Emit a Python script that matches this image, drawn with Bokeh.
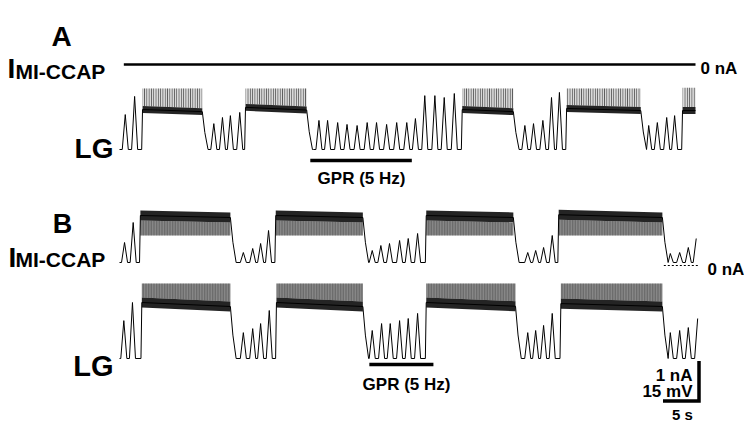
from bokeh.plotting import figure
from bokeh.models import Range1d, Label
from bokeh.embed import file_html
from bokeh.resources import INLINE

# ---------------- data (time in s from trace start; LG in mV above trough; I in nA) -------------
# Panel A, LG
A_LG_PEAK_T = [0.8, 2.1, 13.1, 14.3, 15.4, 16.7,
               26.5, 27.7, 28.9, 30.3, 31.6, 33.0, 34.4, 35.7, 37.1, 38.5, 39.9, 41.1,
               42.4, 43.8, 45.1, 46.5,
               56.3, 57.5, 58.8, 60.0, 61.1,
               73.5, 74.7, 76.0, 77.1]
A_LG_PEAK_MV = [13.1, 19.9, 9.7, 12.0, 12.7, 13.9,
                10.9, 10.9, 10.9, 10.1, 9.4, 9.0, 10.1, 10.1, 9.4, 10.1, 10.1, 11.6,
                20.2, 20.2, 19.5, 21.0,
                9.0, 9.7, 10.9, 19.5, 21.4,
                9.0, 10.1, 12.0, 12.7]
A_LG_BURST_ON = [3.2, 17.5, 47.6, 62.1, 78.2]
A_LG_BURST_OFF = [11.5, 26.0, 54.7, 72.4, 80.0]
A_LG_PLATEAU_ON = [15.0, 15.8, 15.0, 15.4, 14.6]
A_LG_PLATEAU_OFF = [14.2, 14.8, 14.2, 14.6, 14.6]
A_LG_SPIKE_TOP = [22.9, 22.9, 22.9, 22.9, 23.2]
A_I_T = [0.6, 80.0]
A_I_NA = [0.0, 0.0]
A_GPR_T = [26.5, 40.6]

# Panel B, I MI-CCAP
B_I_PEAK_T = [0.7, 1.9, 17.2, 18.5, 19.6, 20.7,
              35.1, 36.3, 37.5, 38.9, 40.1, 41.4,
              56.7, 57.8, 58.9, 60.1,
              76.5, 77.8, 79.0, 80.1]
B_I_PEAK_NA = [0.575, 1.075, 0.325, 0.425, 0.55, 0.875,
               0.375, 0.5, 0.55, 0.625, 0.675, 0.8,
               0.325, 0.375, 0.45, 0.75,
               0.3, 0.325, 0.45, 0.675]
B_I_TROUGH_NA = 0.075
B_I_BURST_ON = [2.9, 21.7, 42.6, 61.0]
B_I_BURST_OFF = [15.4, 33.8, 54.7, 75.4]
B_I_PLATEAU_ON = [1.25, 1.25, 1.25, 1.27]
B_I_PLATEAU_OFF = [1.2, 1.2, 1.2, 1.2]
B_I_SPIKE_LOW = [0.75, 0.75, 0.75, 0.75]
B_ZERO_T = [75.6, 80.4]

# Panel B, LG
B_LG_PEAK_T = [0.6, 1.8, 17.2, 18.5, 19.6, 20.8,
               35.1, 36.4, 37.6, 38.9, 40.1, 41.4,
               56.7, 57.8, 58.9, 60.1,
               76.5, 77.8, 79.0, 80.3]
B_LG_PEAK_MV = [14.2, 21.0, 9.7, 11.2, 13.1, 18.0,
                10.5, 13.1, 13.1, 14.2, 15.0, 16.9,
                9.7, 10.5, 12.4, 16.9,
                9.7, 10.5, 11.6, 15.0]
B_LG_BURST_ON = [3.1, 21.8, 42.6, 61.3]
B_LG_BURST_OFF = [15.4, 33.8, 55.0, 75.4]
B_LG_PLATEAU_ON = [21.0, 21.0, 21.0, 20.6]
B_LG_PLATEAU_OFF = [19.5, 19.5, 19.6, 19.5]
B_LG_SPIKE_TOP = [28.1, 28.1, 28.1, 28.1]
B_GPR_T = [34.7, 43.6]

# scale bars
SCALE_T = 5.0
SCALE_MV = 15.0
SCALE_NA = 1.0

# ---------------- layout helpers (reference pixel -> plot units) ----------------
PX_S = 7.2
PX_MV = 40.0 / 15.0
NA_UNITS = 15.0  # 1 nA drawn as tall as 15 mV


def tx(px):
    return (px - 119.0) / PX_S


def ty(py):
    return (426.0 - py) / PX_MV


A_I_ZERO = ty(64)
A_LG_BASE = ty(149)
B_I_ZERO = ty(265)
B_LG_BASE = ty(358)

FONT = "Liberation Sans"

p = figure(width=744, height=426, x_range=Range1d(tx(0), tx(744)),
           y_range=Range1d(ty(426), ty(0)), output_backend="svg",
           toolbar_location=None, x_axis_location=None, y_axis_location=None,
           min_border=0)
p.grid.visible = False
p.outline_line_color = None
p.background_fill_color = "white"


def build(peak_t, peak_v, on, off, lvl_on, lvl_off, trough, t_end, w=0.42):
    ev = [(t, 0, i) for i, t in enumerate(peak_t)] + [(t, 1, i) for i, t in enumerate(on)]
    ev.sort()
    xs, ys = [0.0], [trough]

    def add(x, y):
        if x > xs[-1] + 1e-6 and x <= t_end + 1e-6:
            xs.append(x)
            ys.append(y)

    for t, kind, i in ev:
        if kind == 0:
            add(t - w, trough)
            add(t, peak_v[i])
            add(t + w, trough)
        else:
            add(t - 0.12, trough)
            add(t, lvl_on[i])
            add(off[i], lvl_off[i])
            add(off[i] + 0.35, trough + 0.45 * (lvl_off[i] - trough))
            add(off[i] + 0.8, trough)
    return xs, ys


def draw_bursts(on, off, lvl_on, lvl_off, ext, scale, base, half, hatch_scale,
                shade, hatch_color, up=True):
    xs_sp, ys_sp, xs_b, ys_b = [], [], [], []
    for i in range(len(on)):
        a = base + lvl_on[i] * scale
        b = base + lvl_off[i] * scale
        e = base + ext[i] * scale
        s = half if up else -half
        xs_sp.append([on[i], off[i], off[i], on[i]])
        ys_sp.append([a + s, b + s, e, e])
        xs_b.append([on[i], off[i], off[i], on[i]])
        ys_b.append([a - half, b - half, b + half, a + half])
    p.patches(xs_sp, ys_sp, fill_color="#000000", fill_alpha=shade, line_color=None,
              hatch_pattern="vertical_line", hatch_color=hatch_color,
              hatch_scale=hatch_scale, hatch_weight=1.0)
    p.patches(xs_b, ys_b, fill_color="#111111", fill_alpha=0.92, line_color=None)


# ---- Panel A ----
p.line([A_I_T[0], A_I_T[1]], [A_I_ZERO + v * NA_UNITS for v in A_I_NA],
       line_color="black", line_width=2.5)

draw_bursts(A_LG_BURST_ON, A_LG_BURST_OFF, A_LG_PLATEAU_ON, A_LG_PLATEAU_OFF,
            A_LG_SPIKE_TOP, 1.0, A_LG_BASE, 1.3, 2.3, 0.15, "#444444", up=True)
xa, ya = build(A_LG_PEAK_T, A_LG_PEAK_MV, A_LG_BURST_ON, A_LG_BURST_OFF,
               A_LG_PLATEAU_ON, A_LG_PLATEAU_OFF, 0.0, 80.0)
p.line(xa, [A_LG_BASE + v for v in ya], line_color="black", line_width=1.0)

p.line(A_GPR_T, [ty(160)] * 2, line_color="black", line_width=3.5)

# ---- Panel B ----
draw_bursts(B_I_BURST_ON, B_I_BURST_OFF, B_I_PLATEAU_ON, B_I_PLATEAU_OFF,
            B_I_SPIKE_LOW, NA_UNITS, B_I_ZERO, 1.9, 1.6, 0.45, "#2a2a2a", up=False)
xi, yi = build(B_I_PEAK_T, B_I_PEAK_NA, B_I_BURST_ON, B_I_BURST_OFF,
               B_I_PLATEAU_ON, B_I_PLATEAU_OFF, B_I_TROUGH_NA, 80.3)
p.line(xi, [B_I_ZERO + v * NA_UNITS for v in yi], line_color="black", line_width=1.0)
p.line(B_ZERO_T, [B_I_ZERO] * 2, line_color="black", line_width=1.2, line_dash="2 2")

draw_bursts(B_LG_BURST_ON, B_LG_BURST_OFF, B_LG_PLATEAU_ON, B_LG_PLATEAU_OFF,
            B_LG_SPIKE_TOP, 1.0, B_LG_BASE, 1.9, 1.6, 0.45, "#2a2a2a", up=True)
xl, yl = build(B_LG_PEAK_T, B_LG_PEAK_MV, B_LG_BURST_ON, B_LG_BURST_OFF,
               B_LG_PLATEAU_ON, B_LG_PLATEAU_OFF, 0.0, 80.3)
p.line(xl, [B_LG_BASE + v for v in yl], line_color="black", line_width=1.0)

p.line(B_GPR_T, [ty(364)] * 2, line_color="black", line_width=3.5)

# ---- scale bars ----
sx = tx(698.5)
sy = ty(400.5)
p.line([sx - SCALE_T, sx, sx], [sy, sy, sy + SCALE_MV], line_color="black",
       line_width=3.5, line_join="miter")


def lab(px, py, text, size, align="left"):
    p.add_layout(Label(x=tx(px), y=ty(py), text=text, text_font=FONT,
                       text_font_style="bold", text_font_size=f"{size}px",
                       text_align=align, text_baseline="alphabetic",
                       text_color="black"))


lab(61, 36, "A", 28, "center")
lab(7, 68, "I", 28)
lab(15, 71, "MI-CCAP", 21)
lab(113, 148, "LG", 28, "right")
lab(700, 68, "0 nA", 17)
lab(361, 178, "GPR (5 Hz)", 17, "center")

lab(62, 223, "B", 27, "center")
lab(8, 257, "I", 28)
lab(15, 259, "MI-CCAP", 21)
lab(113, 365, "LG", 29, "right")
lab(707, 269, "0 nA", 17)
lab(406, 384, "GPR (5 Hz)", 17, "center")

lab(692, 375, "1 nA", 17, "right")
lab(692, 391, "15 mV", 17, "right")
lab(682, 414, "5 s", 15, "center")

open("out.html", "w").write(file_html(p, INLINE))
